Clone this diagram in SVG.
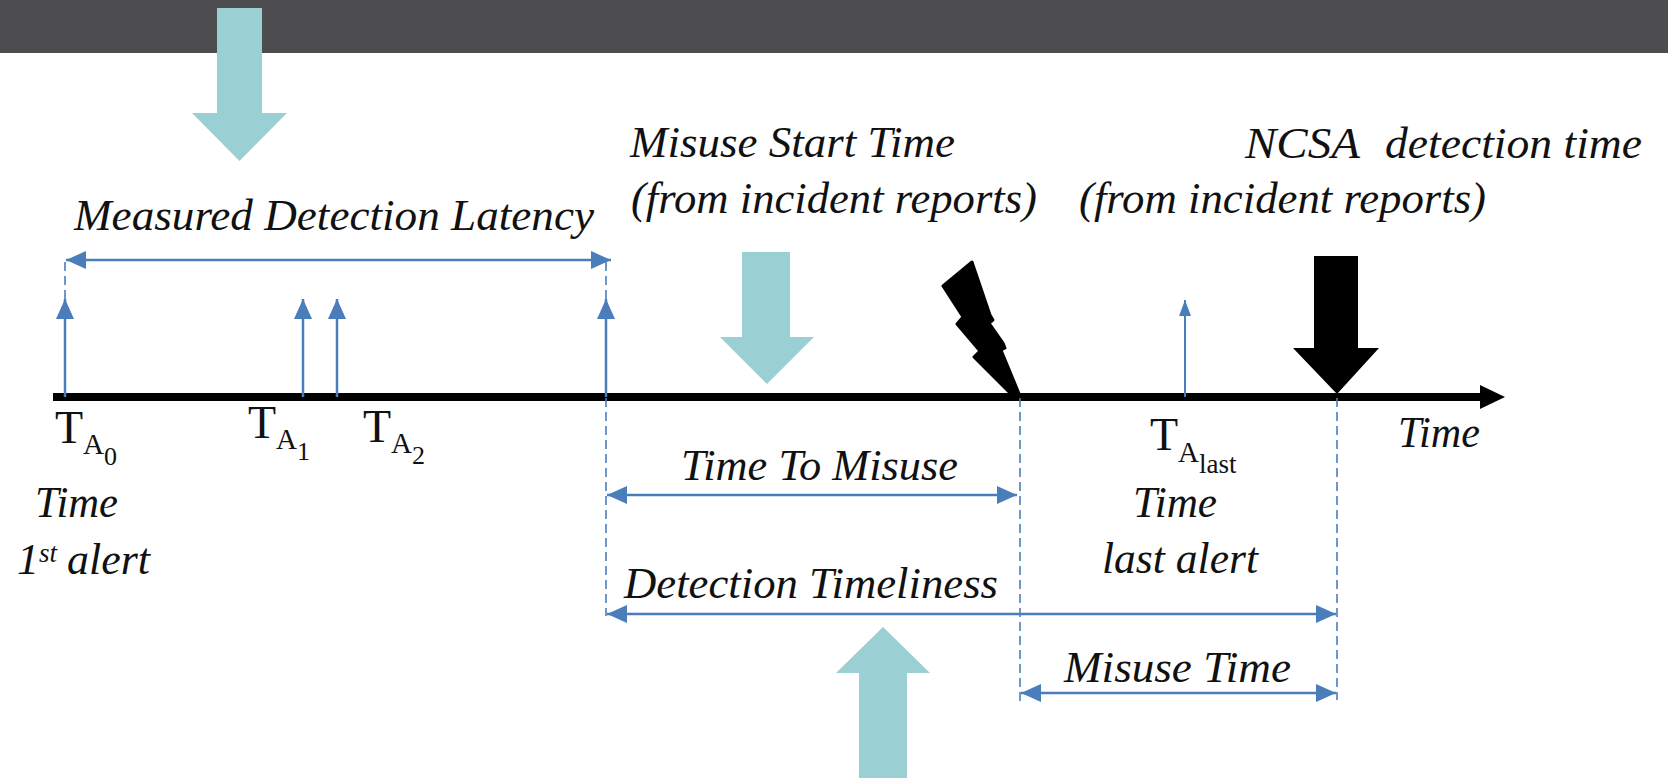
<svg xmlns="http://www.w3.org/2000/svg" width="1668" height="781" viewBox="0 0 1668 781">
  <style>
    .it { font-family: "Liberation Serif", "Times New Roman", serif; font-style: italic; fill: #111; font-size: 44px; }
    .rm { font-family: "Liberation Serif", "Times New Roman", serif; font-style: normal; fill: #111; font-size: 46px; }
    .sub { font-size: 29px; }
    .sub2 { font-size: 26px; }
    .teal { fill: #9acfd3; }
    .blk { fill: #000; }
    .span { stroke: #4a7ebb; stroke-width: 2.5; fill: none; marker-start: url(#ah); marker-end: url(#ah); }
    .alert { stroke: #4a7ebb; stroke-width: 2.5; fill: none; marker-end: url(#ah); }
    .guide { stroke: #4a7ebb; stroke-width: 1.6; stroke-dasharray: 9 5; fill: none; }
  </style>
  <defs>
    <marker id="ah" viewBox="0 0 20 18" refX="20" refY="9" markerWidth="20" markerHeight="18" markerUnits="userSpaceOnUse" orient="auto-start-reverse">
      <path d="M0,0 L20,9 L0,18 Z" fill="#4a7ebb"/>
    </marker>
    <marker id="ahs" viewBox="0 0 16 12" refX="16" refY="6" markerWidth="16" markerHeight="12" markerUnits="userSpaceOnUse" orient="auto">
      <path d="M0,0 L16,6 L0,12 Z" fill="#4a7ebb"/>
    </marker>
  </defs>

  <rect width="1668" height="781" fill="#ffffff"/>
  <!-- header band -->
  <rect x="0" y="0" width="1668" height="53" fill="#4d4d4f"/>

  <!-- timeline axis -->
  <g id="axis">
    <line x1="53" y1="397" x2="1484" y2="397" stroke="#000" stroke-width="8"/>
    <path d="M1480,385 L1505,397 L1480,409 Z" fill="#000"/>
    <text class="it" x="1398" y="447" textLength="82" lengthAdjust="spacingAndGlyphs">Time</text>
  </g>

  <!-- dashed guides and measured intervals -->
  <g id="connectors">
    <line class="guide" x1="65" y1="262" x2="65" y2="300"/>
    <line class="guide" x1="606" y1="262" x2="606" y2="300"/>
    <line class="guide" x1="606" y1="398" x2="606" y2="616"/>
    <line class="guide" x1="1020" y1="398" x2="1020" y2="702"/>
    <line class="guide" x1="1337" y1="398" x2="1337" y2="700"/>

    <line class="alert" x1="65" y1="397" x2="65" y2="299"/>
    <line class="alert" x1="303" y1="397" x2="303" y2="299"/>
    <line class="alert" x1="337" y1="397" x2="337" y2="299"/>
    <line class="alert" x1="606" y1="397" x2="606" y2="299"/>
    <line x1="1185" y1="397" x2="1185" y2="300" stroke="#4a7ebb" stroke-width="2" marker-end="url(#ahs)"/>

    <line class="span" x1="66" y1="260" x2="611" y2="260"/>
    <line class="span" x1="607" y1="495" x2="1017" y2="495"/>
    <line class="span" x1="607" y1="614" x2="1336" y2="614"/>
    <line class="span" x1="1021" y1="693" x2="1336" y2="693"/>
  </g>

  <!-- highlight arrows -->
  <g id="arrow-latency">
    <path class="teal" d="M217,8 H262 V113 H287 L239.5,161 L192,113 H217 Z"/>
  </g>
  <g id="arrow-misuse-start">
    <path class="teal" d="M742,252 H790 V337 H814 L767,384 L720,337 H742 Z"/>
  </g>
  <g id="arrow-timeliness">
    <path class="teal" d="M859,778 H907 V673 H930 L883,627 L836,673 H859 Z"/>
  </g>
  <g id="arrow-ncsa">
    <path class="blk" d="M1314,256 H1358 V348 H1379 L1337,394 L1293,348 H1314 Z"/>
  </g>

  <!-- lightning bolt marking the misuse start -->
  <g id="misuse-bolt">
    <path class="blk" stroke="#000" stroke-width="3" stroke-linejoin="round"
          d="M943,286 L972,262 L990,315 L993,320 L989,323 L1003,343 L1005,348 L1001,350 L1020,396 L1013,396 L974,357 L980,351 L957,324 L963,317 Z"/>
  </g>

  <!-- alert labels -->
  <g id="label-ta0">
    <text class="rm" x="55" y="443">T<tspan class="sub" dy="11">A</tspan><tspan class="sub2" dy="11">0</tspan></text>
    <text class="it" x="35" y="517" textLength="83" lengthAdjust="spacingAndGlyphs">Time</text>
    <text class="it" x="17" y="574">1<tspan font-size="27" dy="-12">st</tspan><tspan dx="10" dy="12" textLength="83" lengthAdjust="spacingAndGlyphs">alert</tspan></text>
  </g>
  <g id="label-ta1">
    <text class="rm" x="248" y="438">T<tspan class="sub" dy="11">A</tspan><tspan class="sub2" dy="11">1</tspan></text>
  </g>
  <g id="label-ta2">
    <text class="rm" x="363" y="442">T<tspan class="sub" dy="11">A</tspan><tspan class="sub2" dy="11">2</tspan></text>
  </g>
  <g id="label-talast">
    <text class="rm" x="1150" y="450">T<tspan class="sub" dy="12">A</tspan><tspan font-size="27" dy="11">last</tspan></text>
    <text class="it" x="1133" y="517" textLength="84" lengthAdjust="spacingAndGlyphs">Time</text>
    <text class="it" x="1102" y="573" textLength="156" lengthAdjust="spacingAndGlyphs">last alert</text>
  </g>

  <!-- interval and event labels -->
  <g id="label-latency">
    <text class="it" x="74" y="230" font-size="46" textLength="520" lengthAdjust="spacingAndGlyphs">Measured Detection Latency</text>
  </g>
  <g id="label-misuse-start">
    <text class="it" x="630" y="157" textLength="325" lengthAdjust="spacingAndGlyphs">Misuse Start Time</text>
    <text class="it" x="631" y="213" textLength="406" lengthAdjust="spacingAndGlyphs">(from incident reports)</text>
  </g>
  <g id="label-ncsa">
    <text class="it" x="1245" y="158" font-size="46" fill="#000" textLength="115" lengthAdjust="spacingAndGlyphs">NCSA</text>
    <text class="it" x="1385" y="158" textLength="257" lengthAdjust="spacingAndGlyphs">detection time</text>
    <text class="it" x="1079" y="213" textLength="407" lengthAdjust="spacingAndGlyphs">(from incident reports)</text>
  </g>
  <g id="label-ttm">
    <text class="it" x="681" y="480" textLength="277" lengthAdjust="spacingAndGlyphs">Time To Misuse</text>
  </g>
  <g id="label-timeliness">
    <text class="it" x="624" y="598" textLength="374" lengthAdjust="spacingAndGlyphs">Detection Timeliness</text>
  </g>
  <g id="label-misuse-time">
    <text class="it" x="1064" y="682" textLength="227" lengthAdjust="spacingAndGlyphs">Misuse Time</text>
  </g>
</svg>
